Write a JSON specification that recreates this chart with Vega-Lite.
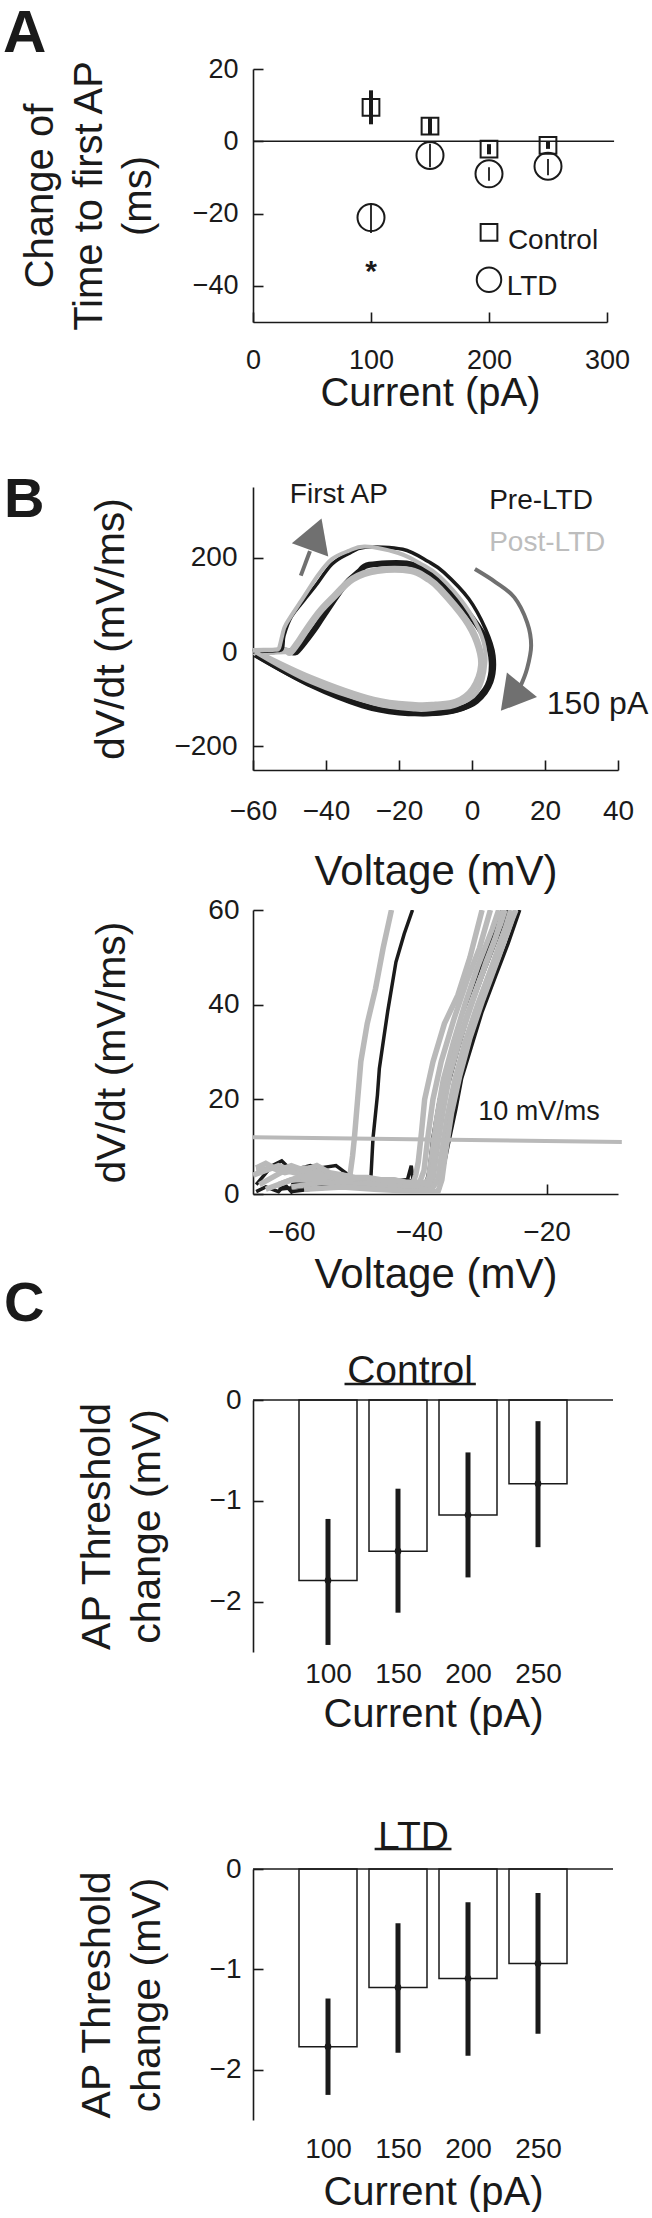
{
  "$schema": "https://vega.github.io/schema/vega-lite/v6.json",
  "padding": {"left": 3, "top": 3, "right": 0, "bottom": 0},
  "background": "white",
  "bounds": "flush",
  "spacing": 0,
  "config": {
    "font": "Liberation Sans",
    "view": {"stroke": null},
    "axis": {"grid": false, "domainColor": "#1a1a1a", "domainWidth": 1.6, "tickColor": "#1a1a1a", "tickWidth": 1.6, "tickSize": -10,
      "labelColor": "#1a1a1a", "labelFontSize": 28, "titleColor": "#1a1a1a", "titleFontSize": 41, "titleFontWeight": "normal",
      "labelFont": "Liberation Sans", "titleFont": "Liberation Sans", "labelFlush": false, "labelOverlap": false},
    "title": {"font": "Liberation Sans", "color": "#1a1a1a"}
  },
  "datasets": {
    "timeAP": [
      {"current": 100, "group": "Control", "mean": 9.4, "lo": 4.7, "hi": 14.1},
      {"current": 150, "group": "Control", "mean": 4.2, "lo": 1.9, "hi": 6.4},
      {"current": 200, "group": "Control", "mean": -2.2, "lo": -3.6, "hi": -0.8},
      {"current": 250, "group": "Control", "mean": -1.1, "lo": -2.1, "hi": -0.1},
      {"current": 100, "group": "LTD", "mean": -21.1, "lo": -25.4, "hi": -17.1},
      {"current": 150, "group": "LTD", "mean": -3.9, "lo": -7.2, "hi": -0.7},
      {"current": 200, "group": "LTD", "mean": -9.0, "lo": -10.9, "hi": -7.2},
      {"current": 250, "group": "LTD", "mean": -6.9, "lo": -9.4, "hi": -4.9}
    ],
    "phase": [
      {"tr": "p1", "cond": "Pre", "kind": "first", "ord": 0, "v": -60, "d": 0},
      {"tr": "p1", "cond": "Pre", "kind": "first", "ord": 1, "v": -57, "d": 2},
      {"tr": "p1", "cond": "Pre", "kind": "first", "ord": 2, "v": -54, "d": 3},
      {"tr": "p1", "cond": "Pre", "kind": "first", "ord": 3, "v": -52, "d": 7},
      {"tr": "p1", "cond": "Pre", "kind": "first", "ord": 4, "v": -51.5, "d": 35},
      {"tr": "p1", "cond": "Pre", "kind": "first", "ord": 5, "v": -49.5, "d": 75},
      {"tr": "p1", "cond": "Pre", "kind": "first", "ord": 6, "v": -46, "d": 110},
      {"tr": "p1", "cond": "Pre", "kind": "first", "ord": 7, "v": -42.9, "d": 140},
      {"tr": "p1", "cond": "Pre", "kind": "first", "ord": 8, "v": -38.4, "d": 186},
      {"tr": "p1", "cond": "Pre", "kind": "first", "ord": 9, "v": -34, "d": 208},
      {"tr": "p1", "cond": "Pre", "kind": "first", "ord": 10, "v": -29.3, "d": 222},
      {"tr": "p1", "cond": "Pre", "kind": "first", "ord": 11, "v": -19, "d": 218},
      {"tr": "p1", "cond": "Pre", "kind": "first", "ord": 12, "v": -12, "d": 192},
      {"tr": "p1", "cond": "Pre", "kind": "first", "ord": 13, "v": -7.7, "d": 169},
      {"tr": "p1", "cond": "Pre", "kind": "first", "ord": 14, "v": -0.9, "d": 113},
      {"tr": "p1", "cond": "Pre", "kind": "first", "ord": 15, "v": 3.7, "d": 49},
      {"tr": "p1", "cond": "Pre", "kind": "first", "ord": 16, "v": 6, "d": -7},
      {"tr": "p1", "cond": "Pre", "kind": "first", "ord": 17, "v": 5.4, "d": -63},
      {"tr": "p1", "cond": "Pre", "kind": "first", "ord": 18, "v": 1.4, "d": -106},
      {"tr": "p1", "cond": "Pre", "kind": "first", "ord": 19, "v": -4, "d": -124},
      {"tr": "p1", "cond": "Pre", "kind": "first", "ord": 20, "v": -9.9, "d": -131},
      {"tr": "p1", "cond": "Pre", "kind": "first", "ord": 21, "v": -15.6, "d": -132},
      {"tr": "p1", "cond": "Pre", "kind": "first", "ord": 22, "v": -27, "d": -118},
      {"tr": "p1", "cond": "Pre", "kind": "first", "ord": 23, "v": -44.1, "d": -71},
      {"tr": "p1", "cond": "Pre", "kind": "first", "ord": 24, "v": -59.4, "d": -7},
      {"tr": "q1", "cond": "Post", "kind": "first", "ord": 0, "v": -60, "d": 3},
      {"tr": "q1", "cond": "Post", "kind": "first", "ord": 1, "v": -57, "d": 4},
      {"tr": "q1", "cond": "Post", "kind": "first", "ord": 2, "v": -54, "d": 5},
      {"tr": "q1", "cond": "Post", "kind": "first", "ord": 3, "v": -52.9, "d": 8},
      {"tr": "q1", "cond": "Post", "kind": "first", "ord": 4, "v": -52, "d": 35},
      {"tr": "q1", "cond": "Post", "kind": "first", "ord": 5, "v": -50.9, "d": 60},
      {"tr": "q1", "cond": "Post", "kind": "first", "ord": 6, "v": -46, "d": 118},
      {"tr": "q1", "cond": "Post", "kind": "first", "ord": 7, "v": -42, "d": 165},
      {"tr": "q1", "cond": "Post", "kind": "first", "ord": 8, "v": -38.4, "d": 197},
      {"tr": "q1", "cond": "Post", "kind": "first", "ord": 9, "v": -34, "d": 214},
      {"tr": "q1", "cond": "Post", "kind": "first", "ord": 10, "v": -29.3, "d": 224},
      {"tr": "q1", "cond": "Post", "kind": "first", "ord": 11, "v": -20.2, "d": 210},
      {"tr": "q1", "cond": "Post", "kind": "first", "ord": 12, "v": -14, "d": 187},
      {"tr": "q1", "cond": "Post", "kind": "first", "ord": 13, "v": -8.8, "d": 160},
      {"tr": "q1", "cond": "Post", "kind": "first", "ord": 14, "v": -2, "d": 100},
      {"tr": "q1", "cond": "Post", "kind": "first", "ord": 15, "v": 2.6, "d": 35},
      {"tr": "q1", "cond": "Post", "kind": "first", "ord": 16, "v": 3.7, "d": -21},
      {"tr": "q1", "cond": "Post", "kind": "first", "ord": 17, "v": 1.4, "d": -85},
      {"tr": "q1", "cond": "Post", "kind": "first", "ord": 18, "v": -4.3, "d": -113},
      {"tr": "q1", "cond": "Post", "kind": "first", "ord": 19, "v": -10, "d": -120},
      {"tr": "q1", "cond": "Post", "kind": "first", "ord": 20, "v": -15.6, "d": -122},
      {"tr": "q1", "cond": "Post", "kind": "first", "ord": 21, "v": -27, "d": -109},
      {"tr": "q1", "cond": "Post", "kind": "first", "ord": 22, "v": -44.1, "d": -64},
      {"tr": "q1", "cond": "Post", "kind": "first", "ord": 23, "v": -59.4, "d": 0},
      {"tr": "p2", "cond": "Pre", "kind": "later", "ord": 0, "v": -60, "d": 0},
      {"tr": "p2", "cond": "Pre", "kind": "later", "ord": 1, "v": -55, "d": 2},
      {"tr": "p2", "cond": "Pre", "kind": "later", "ord": 2, "v": -51, "d": 3},
      {"tr": "p2", "cond": "Pre", "kind": "later", "ord": 3, "v": -48.5, "d": -1},
      {"tr": "p2", "cond": "Pre", "kind": "later", "ord": 4, "v": -47.5, "d": 5},
      {"tr": "p2", "cond": "Pre", "kind": "later", "ord": 5, "v": -45.8, "d": 21},
      {"tr": "p2", "cond": "Pre", "kind": "later", "ord": 6, "v": -43, "d": 50},
      {"tr": "p2", "cond": "Pre", "kind": "later", "ord": 7, "v": -40.6, "d": 78},
      {"tr": "p2", "cond": "Pre", "kind": "later", "ord": 8, "v": -35, "d": 141},
      {"tr": "p2", "cond": "Pre", "kind": "later", "ord": 9, "v": -31, "d": 170},
      {"tr": "p2", "cond": "Pre", "kind": "later", "ord": 10, "v": -28.1, "d": 185},
      {"tr": "p2", "cond": "Pre", "kind": "later", "ord": 11, "v": -17.9, "d": 188},
      {"tr": "p2", "cond": "Pre", "kind": "later", "ord": 12, "v": -12, "d": 170},
      {"tr": "p2", "cond": "Pre", "kind": "later", "ord": 13, "v": -8.8, "d": 148},
      {"tr": "p2", "cond": "Pre", "kind": "later", "ord": 14, "v": -2, "d": 92},
      {"tr": "p2", "cond": "Pre", "kind": "later", "ord": 15, "v": 3.7, "d": 28},
      {"tr": "p2", "cond": "Pre", "kind": "later", "ord": 16, "v": 5.4, "d": -21},
      {"tr": "p2", "cond": "Pre", "kind": "later", "ord": 17, "v": 4.3, "d": -71},
      {"tr": "p2", "cond": "Pre", "kind": "later", "ord": 18, "v": 0.3, "d": -106},
      {"tr": "p2", "cond": "Pre", "kind": "later", "ord": 19, "v": -4, "d": -122},
      {"tr": "p2", "cond": "Pre", "kind": "later", "ord": 20, "v": -9.9, "d": -129},
      {"tr": "p2", "cond": "Pre", "kind": "later", "ord": 21, "v": -20, "d": -128},
      {"tr": "p2", "cond": "Pre", "kind": "later", "ord": 22, "v": -30, "d": -113},
      {"tr": "p2", "cond": "Pre", "kind": "later", "ord": 23, "v": -44, "d": -70},
      {"tr": "p2", "cond": "Pre", "kind": "later", "ord": 24, "v": -59.4, "d": -5},
      {"tr": "q2", "cond": "Post", "kind": "later", "ord": 0, "v": -60, "d": 1},
      {"tr": "q2", "cond": "Post", "kind": "later", "ord": 1, "v": -55, "d": 2},
      {"tr": "q2", "cond": "Post", "kind": "later", "ord": 2, "v": -51, "d": 3},
      {"tr": "q2", "cond": "Post", "kind": "later", "ord": 3, "v": -49.7, "d": 0},
      {"tr": "q2", "cond": "Post", "kind": "later", "ord": 4, "v": -47.5, "d": 22},
      {"tr": "q2", "cond": "Post", "kind": "later", "ord": 5, "v": -45.2, "d": 49},
      {"tr": "q2", "cond": "Post", "kind": "later", "ord": 6, "v": -41.8, "d": 85},
      {"tr": "q2", "cond": "Post", "kind": "later", "ord": 7, "v": -38.4, "d": 113},
      {"tr": "q2", "cond": "Post", "kind": "later", "ord": 8, "v": -32.7, "d": 155},
      {"tr": "q2", "cond": "Post", "kind": "later", "ord": 9, "v": -25.9, "d": 173},
      {"tr": "q2", "cond": "Post", "kind": "later", "ord": 10, "v": -16.8, "d": 173},
      {"tr": "q2", "cond": "Post", "kind": "later", "ord": 11, "v": -12, "d": 155},
      {"tr": "q2", "cond": "Post", "kind": "later", "ord": 12, "v": -8.8, "d": 134},
      {"tr": "q2", "cond": "Post", "kind": "later", "ord": 13, "v": -2, "d": 71},
      {"tr": "q2", "cond": "Post", "kind": "later", "ord": 14, "v": 1.4, "d": 21},
      {"tr": "q2", "cond": "Post", "kind": "later", "ord": 15, "v": 2.6, "d": -28},
      {"tr": "q2", "cond": "Post", "kind": "later", "ord": 16, "v": 0.3, "d": -78},
      {"tr": "q2", "cond": "Post", "kind": "later", "ord": 17, "v": -4.3, "d": -106},
      {"tr": "q2", "cond": "Post", "kind": "later", "ord": 18, "v": -10, "d": -112},
      {"tr": "q2", "cond": "Post", "kind": "later", "ord": 19, "v": -15.6, "d": -113},
      {"tr": "q2", "cond": "Post", "kind": "later", "ord": 20, "v": -27, "d": -102},
      {"tr": "q2", "cond": "Post", "kind": "later", "ord": 21, "v": -44.1, "d": -56},
      {"tr": "q2", "cond": "Post", "kind": "later", "ord": 22, "v": -59.4, "d": 0}
    ],
    "arrows": [
      {"arrow": "first", "ord": 0, "v": -46.9, "d": 162},
      {"arrow": "first", "ord": 1, "v": -44.4, "d": 214},
      {"arrow": "stim", "ord": 0, "v": 0.8, "d": 176},
      {"arrow": "stim", "ord": 1, "v": 6.5, "d": 148},
      {"arrow": "stim", "ord": 2, "v": 11.6, "d": 116},
      {"arrow": "stim", "ord": 3, "v": 15.1, "d": 63},
      {"arrow": "stim", "ord": 4, "v": 16.2, "d": 14},
      {"arrow": "stim", "ord": 5, "v": 15.1, "d": -35},
      {"arrow": "stim", "ord": 6, "v": 13.3, "d": -72}
    ],
    "zoomPre": [
      {"tr": "k1", "v": -65.5, "d": 2}, {"tr": "k1", "v": -63, "d": 6}, {"tr": "k1", "v": -61.5, "d": 7}, {"tr": "k1", "v": -60, "d": 5},
      {"tr": "k1", "v": -57, "d": 6}, {"tr": "k1", "v": -55.5, "d": 5.5}, {"tr": "k1", "v": -53, "d": 6}, {"tr": "k1", "v": -51, "d": 4},
      {"tr": "k1", "v": -49, "d": 3}, {"tr": "k1", "v": -47.8, "d": 2.5}, {"tr": "k1", "v": -47.5, "d": 4}, {"tr": "k1", "v": -47.2, "d": 11.7},
      {"tr": "k1", "v": -46.5, "d": 20.9}, {"tr": "k1", "v": -46.2, "d": 26.5}, {"tr": "k1", "v": -45.5, "d": 33}, {"tr": "k1", "v": -44.9, "d": 38.5},
      {"tr": "k1", "v": -43.6, "d": 49}, {"tr": "k1", "v": -42.3, "d": 55}, {"tr": "k1", "v": -41, "d": 60},
      {"tr": "k0", "v": -65.5, "d": 0.5}, {"tr": "k0", "v": -64, "d": 1.5}, {"tr": "k0", "v": -62, "d": 0.5}, {"tr": "k0", "v": -61, "d": 2},
      {"tr": "k0", "v": -60, "d": 0.5}, {"tr": "k0", "v": -57, "d": 1}, {"tr": "k0", "v": -52, "d": 1.5}, {"tr": "k0", "v": -46, "d": 2.5},
      {"tr": "k0", "v": -42, "d": 2}, {"tr": "k0", "v": -41.2, "d": 6}, {"tr": "k0", "v": -40.8, "d": 1.5}, {"tr": "k0", "v": -38, "d": 1},
      {"tr": "k2", "v": -60, "d": 2}, {"tr": "k2", "v": -55, "d": 3}, {"tr": "k2", "v": -50, "d": 2.5}, {"tr": "k2", "v": -45, "d": 3},
      {"tr": "k2", "v": -40, "d": 2}, {"tr": "k2", "v": -37.5, "d": 0.5}, {"tr": "k2", "v": -36.8, "d": 1}, {"tr": "k2", "v": -36.5, "d": 3.2},
      {"tr": "k2", "v": -35.2, "d": 11.7}, {"tr": "k2", "v": -34.2, "d": 18}, {"tr": "k2", "v": -33.3, "d": 24.4}, {"tr": "k2", "v": -31.8, "d": 31},
      {"tr": "k2", "v": -30.1, "d": 38.5}, {"tr": "k2", "v": -28, "d": 46}, {"tr": "k2", "v": -26, "d": 53}, {"tr": "k2", "v": -24.2, "d": 60},
      {"tr": "k3", "v": -62, "d": 1}, {"tr": "k3", "v": -55, "d": 2}, {"tr": "k3", "v": -47, "d": 2}, {"tr": "k3", "v": -40, "d": 1},
      {"tr": "k3", "v": -39, "d": 1.5}, {"tr": "k3", "v": -38.4, "d": 5}, {"tr": "k3", "v": -37.8, "d": 12}, {"tr": "k3", "v": -36.8, "d": 20},
      {"tr": "k3", "v": -35.2, "d": 29}, {"tr": "k3", "v": -33.2, "d": 38}, {"tr": "k3", "v": -31, "d": 46}, {"tr": "k3", "v": -28.5, "d": 54},
      {"tr": "k3", "v": -27, "d": 60},
      {"tr": "k4", "v": -58, "d": 3}, {"tr": "k4", "v": -50, "d": 2}, {"tr": "k4", "v": -42, "d": 3}, {"tr": "k4", "v": -38.5, "d": 2},
      {"tr": "k4", "v": -37.6, "d": 6}, {"tr": "k4", "v": -36.8, "d": 14}, {"tr": "k4", "v": -35.6, "d": 22}, {"tr": "k4", "v": -34, "d": 30},
      {"tr": "k4", "v": -32, "d": 39}, {"tr": "k4", "v": -29.8, "d": 47}, {"tr": "k4", "v": -27.5, "d": 55}, {"tr": "k4", "v": -26, "d": 60}
    ],
    "zoomPost": [
      {"tr": "g1", "v": -65.5, "d": 5}, {"tr": "g1", "v": -63, "d": 5.5}, {"tr": "g1", "v": -61, "d": 4.5}, {"tr": "g1", "v": -58, "d": 5.5},
      {"tr": "g1", "v": -55, "d": 4.5}, {"tr": "g1", "v": -53, "d": 3.5}, {"tr": "g1", "v": -51.5, "d": 3}, {"tr": "g1", "v": -50.8, "d": 4},
      {"tr": "g1", "v": -50.4, "d": 8}, {"tr": "g1", "v": -50.1, "d": 12}, {"tr": "g1", "v": -49.6, "d": 20}, {"tr": "g1", "v": -49.1, "d": 28},
      {"tr": "g1", "v": -48.1, "d": 36}, {"tr": "g1", "v": -46.8, "d": 43.4}, {"tr": "g1", "v": -45.6, "d": 52}, {"tr": "g1", "v": -44.3, "d": 60},
      {"tr": "g2", "v": -66, "d": 4}, {"tr": "g2", "v": -62, "d": 6}, {"tr": "g2", "v": -60, "d": 5}, {"tr": "g2", "v": -57, "d": 5.5},
      {"tr": "g2", "v": -55, "d": 3.5}, {"tr": "g2", "v": -52, "d": 3}, {"tr": "g2", "v": -50, "d": 3}, {"tr": "g2", "v": -47, "d": 2.5},
      {"tr": "g2", "v": -44, "d": 3}, {"tr": "g2", "v": -41, "d": 2}, {"tr": "g2", "v": -40.5, "d": 4}, {"tr": "g2", "v": -40.1, "d": 6.8},
      {"tr": "g2", "v": -39.6, "d": 13}, {"tr": "g2", "v": -39.1, "d": 20}, {"tr": "g2", "v": -37.8, "d": 27.9}, {"tr": "g2", "v": -36, "d": 36},
      {"tr": "g2", "v": -33.9, "d": 42}, {"tr": "g2", "v": -32, "d": 50}, {"tr": "g2", "v": -30.1, "d": 60},
      {"tr": "g3", "v": -65, "d": 2}, {"tr": "g3", "v": -61, "d": 5}, {"tr": "g3", "v": -58, "d": 4}, {"tr": "g3", "v": -55, "d": 5},
      {"tr": "g3", "v": -52, "d": 2.5}, {"tr": "g3", "v": -48, "d": 3}, {"tr": "g3", "v": -43, "d": 2.5}, {"tr": "g3", "v": -40, "d": 2},
      {"tr": "g3", "v": -39.2, "d": 5}, {"tr": "g3", "v": -38.6, "d": 12}, {"tr": "g3", "v": -37.8, "d": 20}, {"tr": "g3", "v": -36.5, "d": 28},
      {"tr": "g3", "v": -34.5, "d": 37}, {"tr": "g3", "v": -32.5, "d": 45}, {"tr": "g3", "v": -30.5, "d": 52}, {"tr": "g3", "v": -28.8, "d": 60},
      {"tr": "g4", "v": -64, "d": 1}, {"tr": "g4", "v": -60, "d": 3}, {"tr": "g4", "v": -56, "d": 3}, {"tr": "g4", "v": -52, "d": 4},
      {"tr": "g4", "v": -48, "d": 2}, {"tr": "g4", "v": -44, "d": 2}, {"tr": "g4", "v": -40, "d": 1.5}, {"tr": "g4", "v": -38.5, "d": 3},
      {"tr": "g4", "v": -38, "d": 8}, {"tr": "g4", "v": -37.2, "d": 16}, {"tr": "g4", "v": -36.2, "d": 24}, {"tr": "g4", "v": -34.6, "d": 32},
      {"tr": "g4", "v": -32.8, "d": 40}, {"tr": "g4", "v": -30.8, "d": 48}, {"tr": "g4", "v": -28.5, "d": 56}, {"tr": "g4", "v": -27.5, "d": 60},
      {"tr": "g5", "v": -62, "d": 2}, {"tr": "g5", "v": -58, "d": 4}, {"tr": "g5", "v": -54, "d": 4}, {"tr": "g5", "v": -50, "d": 2.5},
      {"tr": "g5", "v": -46, "d": 2}, {"tr": "g5", "v": -42, "d": 1.5}, {"tr": "g5", "v": -39, "d": 1}, {"tr": "g5", "v": -37.8, "d": 3},
      {"tr": "g5", "v": -37.2, "d": 9}, {"tr": "g5", "v": -36.3, "d": 17}, {"tr": "g5", "v": -35.2, "d": 25}, {"tr": "g5", "v": -33.5, "d": 33},
      {"tr": "g5", "v": -31.5, "d": 41}, {"tr": "g5", "v": -29.5, "d": 49}, {"tr": "g5", "v": -27.2, "d": 57}, {"tr": "g5", "v": -26.5, "d": 60},
      {"tr": "g6", "v": -60, "d": 1.5}, {"tr": "g6", "v": -55, "d": 2.5}, {"tr": "g6", "v": -50, "d": 2}, {"tr": "g6", "v": -45, "d": 2.5},
      {"tr": "g6", "v": -42, "d": 1.5}, {"tr": "g6", "v": -38, "d": 1}, {"tr": "g6", "v": -37, "d": 3}, {"tr": "g6", "v": -36.5, "d": 8},
      {"tr": "g6", "v": -35.6, "d": 16}, {"tr": "g6", "v": -34.4, "d": 24}, {"tr": "g6", "v": -32.8, "d": 32}, {"tr": "g6", "v": -30.8, "d": 40},
      {"tr": "g6", "v": -28.6, "d": 48}, {"tr": "g6", "v": -26.5, "d": 56}, {"tr": "g6", "v": -25.6, "d": 60},
      {"tr": "g7", "v": -58, "d": 1}, {"tr": "g7", "v": -52, "d": 1.5}, {"tr": "g7", "v": -47, "d": 1}, {"tr": "g7", "v": -40, "d": 0.5},
      {"tr": "g7", "v": -37, "d": 0.5}, {"tr": "g7", "v": -36.4, "d": 3}, {"tr": "g7", "v": -35.8, "d": 9}, {"tr": "g7", "v": -34.9, "d": 17},
      {"tr": "g7", "v": -33.6, "d": 25}, {"tr": "g7", "v": -32, "d": 33}, {"tr": "g7", "v": -30, "d": 41}, {"tr": "g7", "v": -27.8, "d": 49},
      {"tr": "g7", "v": -25.4, "d": 58}, {"tr": "g7", "v": -24.8, "d": 60},
      {"tr": "g8", "v": -65.5, "d": 5.5}, {"tr": "g8", "v": -64, "d": 6.5}, {"tr": "g8", "v": -62, "d": 5}, {"tr": "g8", "v": -60, "d": 6},
      {"tr": "g8", "v": -58, "d": 5}, {"tr": "g8", "v": -56, "d": 6}, {"tr": "g8", "v": -54, "d": 4.5}, {"tr": "g8", "v": -52, "d": 4},
      {"tr": "g8", "v": -50, "d": 3.5}, {"tr": "g8", "v": -48, "d": 3.5}, {"tr": "g8", "v": -46, "d": 3}, {"tr": "g8", "v": -44, "d": 3},
      {"tr": "g8", "v": -42, "d": 2.5}, {"tr": "g8", "v": -40, "d": 2.5}, {"tr": "g8", "v": -38.5, "d": 2}, {"tr": "g8", "v": -38, "d": 4},
      {"tr": "g8", "v": -37.4, "d": 10}, {"tr": "g8", "v": -36.7, "d": 18}, {"tr": "g8", "v": -35.8, "d": 24}, {"tr": "g8", "v": -34.3, "d": 30},
      {"tr": "g8", "v": -32.4, "d": 38}, {"tr": "g8", "v": -30.2, "d": 46}, {"tr": "g8", "v": -28, "d": 54}, {"tr": "g8", "v": -26.8, "d": 60}
    ],
    "thrControl": [
      {"current": 100, "mean": -1.79, "lo": -2.43, "hi": -1.18},
      {"current": 150, "mean": -1.5, "lo": -2.11, "hi": -0.88},
      {"current": 200, "mean": -1.14, "lo": -1.76, "hi": -0.52},
      {"current": 250, "mean": -0.83, "lo": -1.46, "hi": -0.21}
    ],
    "thrLTD": [
      {"current": 100, "mean": -1.77, "lo": -2.25, "hi": -1.29},
      {"current": 150, "mean": -1.18, "lo": -1.83, "hi": -0.54},
      {"current": 200, "mean": -1.09, "lo": -1.86, "hi": -0.33},
      {"current": 250, "mean": -0.94, "lo": -1.64, "hi": -0.24}
    ]
  },
  "vconcat": [
    {
      "width": 354, "height": 253,
      "title": {"text": "A", "anchor": "start", "frame": "group", "dx": -250, "offset": -56.5, "baseline": "alphabetic", "fontSize": 60, "fontWeight": "bold"},
      "layer": [
        {
          "data": {"values": [{}]},
          "mark": {"type": "rule", "color": "#1a1a1a", "strokeWidth": 1.6},
          "encoding": {"x": {"datum": 0}, "x2": {"datum": 306}, "y": {"datum": 0}}
        },
        {
          "data": {"name": "timeAP"},
          "mark": {"type": "rule", "color": "#1a1a1a"},
          "encoding": {
            "x": {"field": "current", "type": "quantitative"},
            "y": {"field": "lo", "type": "quantitative"},
            "y2": {"field": "hi"},
            "strokeWidth": {"field": "group", "type": "nominal", "scale": {"domain": ["Control", "LTD"], "range": [4, 1.8]}, "legend": null}
          }
        },
        {
          "data": {"name": "timeAP"},
          "mark": {"type": "point", "filled": false, "color": "#1a1a1a", "strokeWidth": 2, "opacity": 1, "size": 729},
          "encoding": {
            "x": {"field": "current", "type": "quantitative", "scale": {"domain": [0, 300], "nice": false, "zero": false},
              "axis": {"values": [0, 100, 200, 300], "title": "Current (pA)", "labelFontSize": 27, "labelPadding": 35, "labelDx": 5, "titleFontSize": 40, "titlePadding": 0}},
            "y": {"field": "mean", "type": "quantitative", "scale": {"domain": [-50, 20], "nice": false, "zero": false},
              "axis": {"values": [20, 0, -20, -40], "title": ["Change of", "Time to first AP", "(ms)"], "titleFontSize": 40, "titleLineHeight": 49, "labelFontSize": 27, "labelPadding": 25, "titlePadding": 34}},
            "shape": {"field": "group", "type": "nominal",
              "scale": {"domain": ["Control", "LTD"], "range": ["M-0.62,-0.62H0.62V0.62H-0.62Z", "M-1,0A1,1 0 1,0 1,0A1,1 0 1,0 -1,0Z"]},
              "legend": null}
          }
        },
        {
          "data": {"values": [{}]},
          "mark": {"type": "point", "filled": false, "color": "#1a1a1a", "strokeWidth": 2, "opacity": 1, "size": 729, "shape": "M-0.62,-0.62H0.62V0.62H-0.62Z"},
          "encoding": {"x": {"datum": 200}, "y": {"datum": -25.2}}
        },
        {
          "data": {"values": [{}]},
          "mark": {"type": "point", "filled": false, "color": "#1a1a1a", "strokeWidth": 2, "opacity": 1, "size": 600, "shape": "circle"},
          "encoding": {"x": {"datum": 200}, "y": {"datum": -38.3}}
        },
        {
          "data": {"values": [{}]},
          "mark": {"type": "text", "text": "Control", "fontSize": 28, "baseline": "alphabetic", "align": "left", "color": "#1a1a1a"},
          "encoding": {"x": {"datum": 216}, "y": {"datum": -29.8}}
        },
        {
          "data": {"values": [{}]},
          "mark": {"type": "text", "text": "LTD", "fontSize": 28, "baseline": "alphabetic", "align": "left", "color": "#1a1a1a"},
          "encoding": {"x": {"datum": 215}, "y": {"datum": -42.5}}
        },
        {
          "data": {"values": [{}]},
          "mark": {"type": "text", "text": "*", "fontSize": 30, "fontWeight": "bold", "baseline": "alphabetic", "align": "center", "color": "#1a1a1a"},
          "encoding": {"x": {"datum": 100}, "y": {"datum": -38.6}}
        }
      ]
    },
    {"width": 300, "height": 165, "data": {"values": [{}]}, "mark": {"type": "text", "text": ""}, "encoding": {}},
    {
      "width": 365, "height": 283,
      "title": {"text": "B", "anchor": "start", "frame": "group", "dx": -249, "offset": -92, "baseline": "alphabetic", "fontSize": 56, "fontWeight": "bold"},
      "layer": [
        {
          "data": {"name": "phase"},
          "transform": [{"filter": "datum.cond === 'Pre' && datum.kind === 'later'"}],
          "mark": {"type": "line", "color": "#1a1a1a", "strokeWidth": 6, "interpolate": "cardinal"},
          "encoding": {
            "x": {"field": "v", "type": "quantitative", "scale": {"domain": [-60, 40], "nice": false, "zero": false},
              "axis": {"values": [-60, -40, -20, 0, 20, 40], "title": "Voltage (mV)", "titleFontSize": 42, "labelPadding": 37, "titlePadding": 26}},
            "y": {"field": "d", "type": "quantitative", "scale": {"domain": [-250, 350], "nice": false, "zero": false},
              "axis": {"values": [-200, 0, 200], "title": "dV/dt (mV/ms)", "labelPadding": 26, "titlePadding": 41}},
            "detail": {"field": "tr"},
            "order": {"field": "ord"}
          }
        },
        {
          "data": {"name": "phase"},
          "transform": [{"filter": "datum.cond === 'Post' && datum.kind === 'later'"}],
          "mark": {"type": "line", "color": "#b9b9b9", "strokeWidth": 7, "interpolate": "cardinal"},
          "encoding": {"x": {"field": "v", "type": "quantitative"}, "y": {"field": "d", "type": "quantitative"}, "detail": {"field": "tr"}, "order": {"field": "ord"}}
        },
        {
          "data": {"name": "phase"},
          "transform": [{"filter": "datum.cond === 'Pre' && datum.kind === 'first'"}],
          "mark": {"type": "line", "color": "#1a1a1a", "strokeWidth": 3.5, "interpolate": "cardinal"},
          "encoding": {"x": {"field": "v", "type": "quantitative"}, "y": {"field": "d", "type": "quantitative"}, "detail": {"field": "tr"}, "order": {"field": "ord"}}
        },
        {
          "data": {"name": "phase"},
          "transform": [{"filter": "datum.cond === 'Post' && datum.kind === 'first'"}],
          "mark": {"type": "line", "color": "#b9b9b9", "strokeWidth": 4, "interpolate": "cardinal"},
          "encoding": {"x": {"field": "v", "type": "quantitative"}, "y": {"field": "d", "type": "quantitative"}, "detail": {"field": "tr"}, "order": {"field": "ord"}}
        },
        {
          "data": {"name": "arrows"},
          "mark": {"type": "line", "color": "#707070", "strokeWidth": 4, "interpolate": "cardinal"},
          "encoding": {"x": {"field": "v", "type": "quantitative"}, "y": {"field": "d", "type": "quantitative"}, "detail": {"field": "arrow"}, "order": {"field": "ord"}}
        },
        {
          "data": {"values": [{}]},
          "mark": {"type": "point", "shape": "triangle-up", "filled": true, "color": "#707070", "opacity": 1, "size": 1500, "angle": 20},
          "encoding": {"x": {"datum": -42.8}, "y": {"datum": 250}}
        },
        {
          "data": {"values": [{}]},
          "mark": {"type": "point", "shape": "triangle-up", "filled": true, "color": "#707070", "opacity": 1, "size": 1500, "angle": 219},
          "encoding": {"x": {"datum": 10.8}, "y": {"datum": -97}}
        },
        {
          "data": {"values": [{}]},
          "mark": {"type": "text", "text": "First AP", "align": "left", "baseline": "alphabetic", "fontSize": 28, "color": "#1a1a1a"},
          "encoding": {"x": {"datum": -49.9}, "y": {"datum": 317}}
        },
        {
          "data": {"values": [{}]},
          "mark": {"type": "text", "text": "Pre-LTD", "align": "left", "baseline": "alphabetic", "fontSize": 28, "color": "#1a1a1a"},
          "encoding": {"x": {"datum": 4.7}, "y": {"datum": 303}}
        },
        {
          "data": {"values": [{}]},
          "mark": {"type": "text", "text": "Post-LTD", "align": "left", "baseline": "alphabetic", "fontSize": 28, "color": "#bdbdbd"},
          "encoding": {"x": {"datum": 4.7}, "y": {"datum": 214}}
        },
        {
          "data": {"values": [{}]},
          "mark": {"type": "text", "text": "150 pA", "align": "left", "baseline": "alphabetic", "fontSize": 32, "color": "#1a1a1a"},
          "encoding": {"x": {"datum": 20.5}, "y": {"datum": -131}}
        }
      ]
    },
    {"width": 300, "height": 140, "data": {"values": [{}]}, "mark": {"type": "text", "text": ""}, "encoding": {}},
    {
      "width": 365, "height": 284,
      "layer": [
        {
          "data": {"name": "zoomPre"},
          "mark": {"type": "line", "color": "#1a1a1a", "strokeWidth": 3.5, "clip": true},
          "encoding": {
            "x": {"field": "v", "type": "quantitative", "scale": {"domain": [-66, -8.8], "nice": false, "zero": false},
              "axis": {"values": [-60, -40, -20], "title": "Voltage (mV)", "titleFontSize": 42, "labelPadding": 34, "titlePadding": 8}},
            "y": {"field": "d", "type": "quantitative", "scale": {"domain": [0, 60], "nice": false, "zero": false},
              "axis": {"values": [0, 20, 40, 60], "title": "dV/dt (mV/ms)", "labelPadding": 24, "titlePadding": 74}},
            "detail": {"field": "tr"}
          }
        },
        {
          "data": {"values": [{}]},
          "mark": {"type": "rule", "color": "#b9b9b9", "strokeWidth": 4},
          "encoding": {"x": {"datum": -66}, "x2": {"datum": -8.2}, "y": {"datum": 12}, "y2": {"datum": 11}}
        },
        {
          "data": {"name": "zoomPost"},
          "mark": {"type": "line", "color": "#b9b9b9", "strokeWidth": 5.5, "clip": true},
          "encoding": {"x": {"field": "v", "type": "quantitative"}, "y": {"field": "d", "type": "quantitative"}, "detail": {"field": "tr"}}
        },
        {
          "data": {"values": [{}]},
          "mark": {"type": "text", "text": "10 mV/ms", "align": "left", "baseline": "alphabetic", "fontSize": 27, "color": "#1a1a1a"},
          "encoding": {"x": {"datum": -30.7}, "y": {"datum": 15.6}}
        }
      ]
    },
    {
      "width": 300, "height": 206, "data": {"values": [{}]}, "mark": {"type": "text", "text": ""}, "encoding": {},
      "title": {"text": "C", "anchor": "start", "frame": "group", "dx": -249, "offset": -183, "baseline": "alphabetic", "fontSize": 56, "fontWeight": "bold"}
    },
    {
      "width": 360, "height": 252,
      "title": {"text": "Control", "anchor": "middle", "frame": "group", "dx": -23, "offset": -39, "baseline": "alphabetic", "fontSize": 39, "fontWeight": "normal"},
      "layer": [
        {
          "data": {"name": "thrControl"},
          "mark": {"type": "bar", "fill": "white", "stroke": "#1a1a1a", "strokeWidth": 1.5, "size": 58},
          "encoding": {
            "x": {"field": "current", "type": "quantitative", "scale": {"domain": [50, 300], "nice": false, "zero": false},
              "axis": {"values": [100, 150, 200, 250], "domain": false, "ticks": false, "tickSize": 0, "labelPadding": 8, "title": "Current (pA)", "titleFontSize": 40, "titlePadding": 6}},
            "y": {"field": "mean", "type": "quantitative", "scale": {"domain": [-2.5, 0], "nice": false},
              "axis": {"values": [0, -1, -2], "format": "d", "labelPadding": 22, "title": ["AP Threshold", "change (mV)"], "titleLineHeight": 50, "titlePadding": 41}}
          }
        },
        {"data": {"values": [{}]}, "mark": {"type": "rule", "color": "#1a1a1a", "strokeWidth": 1.6}, "encoding": {"y": {"datum": 0}}},
        {
          "data": {"name": "thrControl"},
          "mark": {"type": "rule", "color": "#1a1a1a", "strokeWidth": 5},
          "encoding": {"x": {"field": "current", "type": "quantitative"}, "y": {"field": "lo", "type": "quantitative"}, "y2": {"field": "hi"}}
        },
        {
          "data": {"name": "thrControl"},
          "mark": {"type": "point", "filled": true, "color": "#1a1a1a", "size": 45, "opacity": 1},
          "encoding": {"x": {"field": "current", "type": "quantitative"}, "y": {"field": "mean", "type": "quantitative"}}
        },
        {
          "data": {"values": [{}]},
          "mark": {"type": "rule", "color": "#1a1a1a", "strokeWidth": 2.5},
          "encoding": {"x": {"datum": 111.8}, "x2": {"datum": 205.6}, "y": {"datum": 0.159}}
        }
      ]
    },
    {"width": 300, "height": 217, "data": {"values": [{}]}, "mark": {"type": "text", "text": ""}, "encoding": {}},
    {
      "width": 360, "height": 251,
      "title": {"text": "LTD", "anchor": "middle", "frame": "group", "dx": -19.5, "offset": -40, "baseline": "alphabetic", "fontSize": 39, "fontWeight": "normal"},
      "layer": [
        {
          "data": {"name": "thrLTD"},
          "mark": {"type": "bar", "fill": "white", "stroke": "#1a1a1a", "strokeWidth": 1.5, "size": 58},
          "encoding": {
            "x": {"field": "current", "type": "quantitative", "scale": {"domain": [50, 300], "nice": false, "zero": false},
              "axis": {"values": [100, 150, 200, 250], "domain": false, "ticks": false, "tickSize": 0, "labelPadding": 15, "title": "Current (pA)", "titleFontSize": 40, "titlePadding": 9}},
            "y": {"field": "mean", "type": "quantitative", "scale": {"domain": [-2.5, 0], "nice": false},
              "axis": {"values": [0, -1, -2], "format": "d", "labelPadding": 22, "title": ["AP Threshold", "change (mV)"], "titleLineHeight": 50, "titlePadding": 41}}
          }
        },
        {"data": {"values": [{}]}, "mark": {"type": "rule", "color": "#1a1a1a", "strokeWidth": 1.6}, "encoding": {"y": {"datum": 0}}},
        {
          "data": {"name": "thrLTD"},
          "mark": {"type": "rule", "color": "#1a1a1a", "strokeWidth": 5},
          "encoding": {"x": {"field": "current", "type": "quantitative"}, "y": {"field": "lo", "type": "quantitative"}, "y2": {"field": "hi"}}
        },
        {
          "data": {"name": "thrLTD"},
          "mark": {"type": "point", "filled": true, "color": "#1a1a1a", "size": 45, "opacity": 1},
          "encoding": {"x": {"field": "current", "type": "quantitative"}, "y": {"field": "mean", "type": "quantitative"}}
        },
        {
          "data": {"values": [{}]},
          "mark": {"type": "rule", "color": "#1a1a1a", "strokeWidth": 2.5},
          "encoding": {"x": {"datum": 133.3}, "x2": {"datum": 188.2}, "y": {"datum": 0.198}}
        }
      ]
    }
  ]
}
